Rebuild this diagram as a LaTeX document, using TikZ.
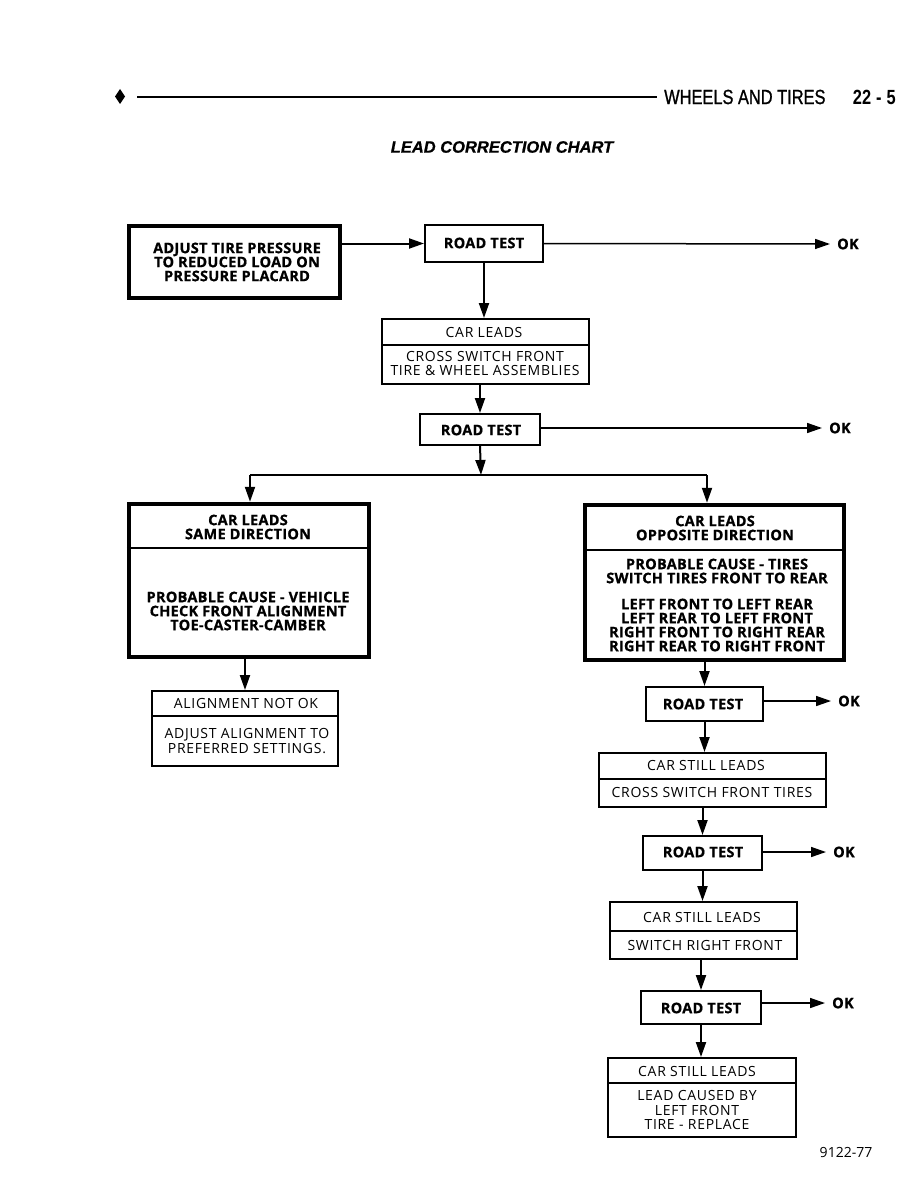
\documentclass[tikz,border=0pt]{standalone}
\usepackage{fontspec}
\usetikzlibrary{arrows.meta,calc}
\newfontfamily\boxbold[LetterSpace=2,FakeBold=0.8]{Open Sans Bold}
\newfontfamily\boxreg[LetterSpace=5]{Open Sans}
\newfontfamily\figfont{Open Sans}
\newfontfamily\hdrfont[FakeStretch=0.8,FakeBold=1]{Liberation Sans}
\newfontfamily\hdrbold[FakeStretch=0.8]{Liberation Sans Bold}
\newfontfamily\ttlfont[FakeBold=0.8]{Liberation Sans Bold Italic}
\tikzset{
  thk/.style={draw, line width=4.5pt, inner sep=0pt},
  bt/.style={font=\boxbold\fontsize{14.5}{14}\selectfont, align=center, inner sep=0pt},
  nt/.style={font=\boxreg\fontsize{14}{14.2}\selectfont, align=center, inner sep=0pt},
  arr/.style={line width=2pt, -{Triangle[length=15pt,width=10pt]}},
  okarr/.style={line width=1.5pt, -{Triangle[length=15pt,width=10pt]}},
  divl/.style={line width=1.6pt},
}
\begin{document}
\begin{tikzpicture}[x=1pt,y=-1pt]
\useasboundingbox (0,0) rectangle (918,1188);
% header
\fill (120,89) -- (125,96.5) -- (120,104) -- (115,96.5) -- cycle;
\draw[line width=2pt] (137,97) -- (657,97);
\node[font=\hdrfont\fontsize{20.5}{20.5}\selectfont, anchor=west, inner sep=0] (hdr) at (664,97) {WHEELS AND TIRES};
\node[font=\hdrbold\fontsize{20.5}{20.5}\selectfont, anchor=east, inner sep=0] (pg) at (896,97) {22\hspace{5pt}-\hspace{5pt}5};
\node[font=\ttlfont\fontsize{16.5}{16.5}\selectfont, inner sep=0] (ttl) at (502,147) {LEAD CORRECTION CHART};

% boxes
\node[thk, minimum width=211, minimum height=72] (A) at (234.5,262) {};
\node[bt] at (237,262) {ADJUST TIRE PRESSURE\\TO REDUCED LOAD ON\\PRESSURE PLACARD};

\node[draw, line width=2pt, minimum width=118, minimum height=37] (RT1) at (484,243.5) {};
\node[bt] at (484,243) {ROAD TEST};
\node[bt, anchor=west] (ok1) at (837,244) {OK};

\node[draw, line width=2pt, minimum width=207, minimum height=65] (B) at (485.5,351.5) {};
\draw[divl] (B.west |- 0,345) -- (B.east |- 0,345);
\node[nt] at (484,332) {CAR LEADS};
\node[nt] at (485,363.5) {CROSS SWITCH FRONT\\TIRE \& WHEEL ASSEMBLIES};

\node[draw, line width=2pt, minimum width=120, minimum height=31] (RT2) at (480,429.5) {};
\node[bt] at (481,430) {ROAD TEST};
\node[bt, anchor=west] (ok2) at (829,428) {OK};

\node[thk, minimum width=240, minimum height=153] (C) at (249,580.5) {};
\draw[divl] (C.west |- 0,548) -- (C.east |- 0,548);
\node[bt] at (248,527) {CAR LEADS\\SAME DIRECTION};
\node[bt] at (248,611) {PROBABLE CAUSE - VEHICLE\\CHECK FRONT ALIGNMENT\\TOE-CASTER-CAMBER};

\node[thk, minimum width=259, minimum height=155] (D) at (714.5,582.5) {};
\draw[divl] (D.west |- 0,550) -- (D.east |- 0,550);
\node[bt] at (715,528) {CAR LEADS\\OPPOSITE DIRECTION};
\node[bt] at (717,571) {PROBABLE CAUSE - TIRES\\SWITCH TIRES FRONT TO REAR};
\node[bt] at (717,625) {LEFT FRONT TO LEFT REAR\\LEFT REAR TO LEFT FRONT\\RIGHT FRONT TO RIGHT REAR\\RIGHT REAR TO RIGHT FRONT};

\node[draw, line width=2pt, minimum width=186, minimum height=75] (E) at (245,728.5) {};
\draw[divl] (E.west |- 0,716) -- (E.east |- 0,716);
\node[nt] at (246,703) {ALIGNMENT NOT OK};
\node[nt] at (247,741) {ADJUST ALIGNMENT TO\\PREFERRED SETTINGS.};

\node[draw, line width=2pt, minimum width=117, minimum height=34] (RT3) at (704.5,704) {};
\node[bt] at (703,704) {ROAD TEST};
\node[bt, anchor=west] (ok3) at (838,701) {OK};

\node[draw, line width=2pt, minimum width=227, minimum height=54] (F) at (712.5,780) {};
\draw[divl] (F.west |- 0,779) -- (F.east |- 0,779);
\node[nt] at (706,765) {CAR STILL LEADS};
\node[nt] at (712,792) {CROSS SWITCH FRONT TIRES};

\node[draw, line width=2pt, minimum width=119, minimum height=34] (RT4) at (702.5,853) {};
\node[bt] at (703,852) {ROAD TEST};
\node[bt, anchor=west] (ok4) at (833,852) {OK};

\node[draw, line width=2pt, minimum width=187, minimum height=57] (G) at (703.5,930.5) {};
\draw[divl] (G.west |- 0,931) -- (G.east |- 0,931);
\node[nt] at (702,917) {CAR STILL LEADS};
\node[nt] at (705,945) {SWITCH RIGHT FRONT};

\node[draw, line width=2pt, minimum width=120, minimum height=33] (RT5) at (701,1007.5) {};
\node[bt] at (701,1008) {ROAD TEST};
\node[bt, anchor=west] (ok5) at (832,1003) {OK};

\node[draw, line width=2pt, minimum width=188, minimum height=79] (H) at (702,1097.5) {};
\draw[divl] (H.west |- 0,1083) -- (H.east |- 0,1083);
\node[nt] at (697,1071) {CAR STILL LEADS};
\node[nt] at (697,1110) {LEAD CAUSED BY\\LEFT FRONT\\TIRE - REPLACE};

\node[font=\figfont\fontsize{14}{14}\selectfont, inner sep=0] (fig) at (846,1152) {9122-77};

% connectors
\draw[arr] (A.east |- RT1.west) -- (RT1.west);
\draw[okarr] (RT1.east) -- ([xshift=-7]ok1.west);
\draw[arr] (RT1.south) -- (RT1.south |- B.north);
\draw[arr] (RT2.north |- B.south) -- (RT2.north);
\draw[okarr] (RT2.east |- ok2.west) -- ([xshift=-7]ok2.west);
\coordinate (jn) at (481,475);
\coordinate (jl) at (250,475);
\coordinate (jr) at (707,475);
\draw[arr] (RT2.south) -- (jn);
\draw[line width=2pt] (jl) -- (jr);
\draw[arr] (jl) -- (jl |- C.north);
\draw[arr] (jr) -- (jr |- D.north);
\draw[arr] (E.north |- C.south) -- (E.north);
\draw[arr] (RT3.north |- D.south) -- (RT3.north);
\draw[okarr] (RT3.east |- ok3.west) -- ([xshift=-7]ok3.west);
\draw[arr] (RT3.south) -- (RT3.south |- F.north);
\draw[arr] (RT4.north |- F.south) -- (RT4.north);
\draw[okarr] (RT4.east |- ok4.west) -- ([xshift=-7]ok4.west);
\draw[arr] (RT4.south) -- (RT4.south |- G.north);
\draw[arr] (RT5.north |- G.south) -- (RT5.north);
\draw[okarr] (RT5.east |- ok5.west) -- ([xshift=-7]ok5.west);
\draw[arr] (RT5.south) -- (RT5.south |- H.north);
\end{tikzpicture}
\end{document}
